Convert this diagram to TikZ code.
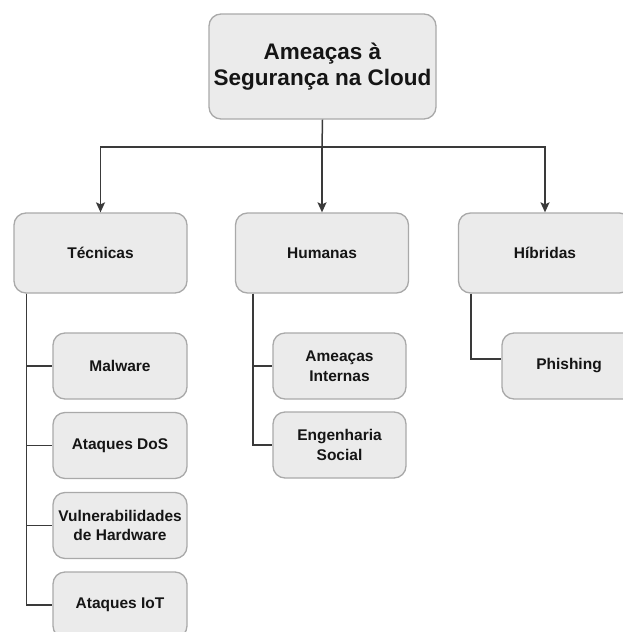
\documentclass[tikz,border=0pt]{standalone}
\usepackage{fontspec}
\setmainfont{Liberation Sans}
\usetikzlibrary{arrows.meta}
\definecolor{boxfill}{HTML}{EBEBEB}
\definecolor{boxline}{HTML}{A9A9A9}
\definecolor{wire}{HTML}{3A3A3A}
\definecolor{ink}{HTML}{151515}
\tikzset{
  card/.style={draw=boxline, fill=boxfill, line width=1.3pt, rounded corners=12pt,
    inner sep=0pt, align=center, text=ink, font=\bfseries\fontsize{15.5}{19.5}\selectfont},
  rootcard/.style={card, minimum width=227pt, minimum height=105pt,
    font=\bfseries\fontsize{22.5}{26}\selectfont},
  groupcard/.style={card, minimum width=173pt, minimum height=80pt},
  leafcard/.style={card, minimum width=134pt, minimum height=66pt},
  wirestyle/.style={draw=wire, line width=1.5pt},
  arrowwire/.style={wirestyle, -{Stealth[length=10pt, width=9pt, inset=2pt]}}
}
\begin{document}
\begin{tikzpicture}[x=1pt, y=-1pt]
\useasboundingbox (0,0) rectangle (622,632);

% root
\node[rootcard] (root) at (322.5,66.5) {Ameaças à\\Segurança na Cloud};

% categories
\node[groupcard] (tec) at (100.5,253) {Técnicas};
\node[groupcard] (hum) at (322,253) {Humanas};
\node[groupcard] (hib) at (545,253) {Híbridas};

% leaves of Técnicas
\node[leafcard] (mal) at (120,366) {Malware};
\node[leafcard] (dos) at (120,445.5) {Ataques DoS};
\node[leafcard] (vul) at (120,525.5) {Vulnerabilidades\\de Hardware};
\node[leafcard] (iot) at (120,605) {Ataques IoT};

% leaves of Humanas
\node[leafcard, minimum width=133pt] (ain) at (339.5,366) {Ameaças\\Internas};
\node[leafcard, minimum width=133pt] (eng) at (339.5,445) {Engenharia\\Social};

% leaf of Híbridas
\node[leafcard] (phi) at (569,366) {Phishing};

% root to categories
\coordinate (bus) at (322,147);
\draw[wirestyle] (root.south) -- (bus);
\draw[arrowwire] (bus) -| (tec.north);
\draw[arrowwire] (bus) -- (hum.north);
\draw[arrowwire] (bus) -| (hib.north);

% category trunks
\draw[wirestyle] ([xshift=13pt]tec.south west) |- (mal.west);
\draw[wirestyle] ([xshift=13pt]tec.south west) |- (dos.west);
\draw[wirestyle] ([xshift=13pt]tec.south west) |- (vul.west);
\draw[wirestyle] ([xshift=13pt]tec.south west) |- (iot.west);

\draw[wirestyle] ([xshift=18pt]hum.south west) |- (ain.west);
\draw[wirestyle] ([xshift=18pt]hum.south west) |- (eng.west);

\draw[wirestyle] ([xshift=13pt]hib.south west) |- ([yshift=7pt]phi.west);
\end{tikzpicture}
\end{document}
